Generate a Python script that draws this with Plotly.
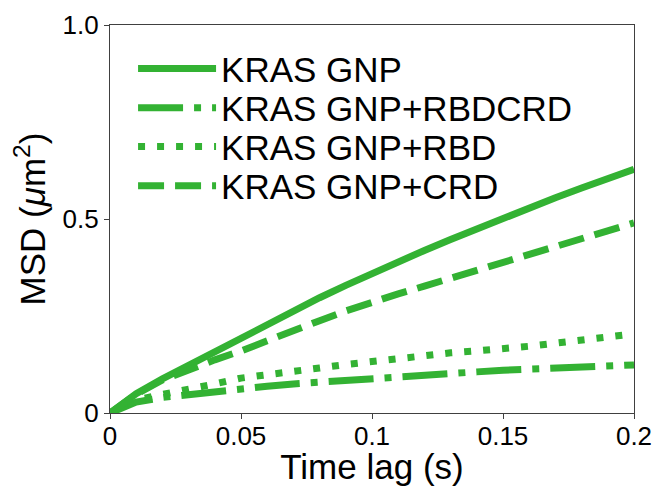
import plotly.graph_objects as go

time_lag = [0.00, 0.01, 0.02, 0.03, 0.04, 0.05, 0.06, 0.07, 0.08, 0.09, 0.10,
            0.11, 0.12, 0.13, 0.14, 0.15, 0.16, 0.17, 0.18, 0.19, 0.20]

msd_gnp = [0, 0.050, 0.088, 0.123, 0.160, 0.197, 0.232, 0.265, 0.297, 0.329, 0.360,
           0.390, 0.419, 0.447, 0.475, 0.502, 0.529, 0.555, 0.580, 0.604, 0.628]
msd_rbdcrd = [0, 0.028, 0.040, 0.048, 0.056, 0.063, 0.069, 0.075, 0.080, 0.085, 0.090,
              0.094, 0.098, 0.102, 0.106, 0.110, 0.113, 0.116, 0.119, 0.122, 0.124]
msd_rbd = [0, 0.033, 0.048, 0.060, 0.075, 0.090, 0.100, 0.108, 0.116, 0.125, 0.133,
           0.141, 0.148, 0.155, 0.160, 0.165, 0.172, 0.180, 0.188, 0.196, 0.204]
msd_crd = [0, 0.048, 0.085, 0.112, 0.137, 0.160, 0.187, 0.213, 0.238, 0.263, 0.287,
           0.307, 0.327, 0.347, 0.367, 0.387, 0.407, 0.430, 0.450, 0.470, 0.490]

series_names = ["KRAS GNP", "KRAS GNP+RBDCRD", "KRAS GNP+RBD", "KRAS GNP+CRD"]
series_values = [msd_gnp, msd_rbdcrd, msd_rbd, msd_crd]
dash_styles = ["solid", "45px,11px,7px,11px", "7px,12px", "26px,11px"]
legend_ids = ["legend", "legend2", "legend3", "legend4"]
legend_rows = [0.887, 0.786, 0.686, 0.585]

x_ticks = [0, 0.05, 0.1, 0.15, 0.2]
x_tick_labels = ["0", "0.05", "0.1", "0.15", "0.2"]
y_ticks = [0, 0.5, 1.0]
y_tick_labels = ["0", "0.5", "1.0"]

GREEN = "#33b233"
FONT = "Liberation Sans, Arial, sans-serif"

fig = go.Figure()
for name, vals, dash, lg in zip(series_names, series_values, dash_styles, legend_ids):
    fig.add_trace(go.Scatter(x=time_lag, y=vals, mode="lines", name=name, legend=lg,
                             line=dict(color=GREEN, width=7, dash=dash)))

axis_common = dict(showline=True, linecolor="#404040", linewidth=1.2, mirror=True,
                   ticks="outside", ticklen=5, tickwidth=1.2, tickcolor="#404040",
                   showgrid=False, zeroline=False, automargin=False,
                   tickfont=dict(family=FONT, size=26, color="black"))

legend_layout = {}
for lg, yrow in zip(legend_ids, legend_rows):
    legend_layout[lg] = dict(x=0.044, y=yrow, xanchor="left", yanchor="middle",
                             font=dict(family=FONT, size=35, color="black"),
                             bgcolor="rgba(0,0,0,0)", itemwidth=78)

fig.update_layout(
    width=658, height=486,
    margin=dict(l=110, r=24, t=25, b=73),
    paper_bgcolor="white", plot_bgcolor="white",
    font=dict(family=FONT, color="black"),
    xaxis=dict(range=[0, 0.2], tickvals=x_ticks, ticktext=x_tick_labels,
               ticklabelstandoff=-5,
               title=dict(text="Time lag (s)", font=dict(family=FONT, size=35), standoff=2),
               **axis_common),
    yaxis=dict(range=[0, 1.0], tickvals=y_ticks, ticktext=y_tick_labels,
               title=dict(text="MSD (<i>μ</i>m<sup>2</sup>)", font=dict(family=FONT, size=35), standoff=6),
               **axis_common),
    showlegend=True,
    **legend_layout,
)

fig.write_html("out.html", config={"displayModeBar": False},
               post_script="document.body.style.margin='0';document.body.style.overflow='hidden';")
